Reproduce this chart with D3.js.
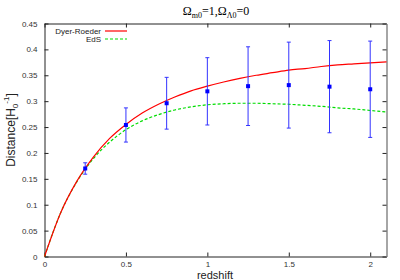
<!DOCTYPE html>
<html>
<head>
<meta charset="utf-8">
<script src="https://cdn.jsdelivr.net/npm/d3@7"></script>
<style>
  body { margin: 0; background: #fff; }
  text { font-family: "Liberation Sans", Arial, sans-serif; }
</style>
</head>
<body>
<div id="chart"></div>
<script>
// data
var zGrid = [0, 0.1, 0.2, 0.3, 0.4, 0.5, 0.6, 0.7, 0.8, 0.9, 1.0, 1.1, 1.2, 1.3, 1.4, 1.5, 1.6, 1.7, 1.8, 1.9, 2.0, 2.1];
var dyerRoeder = [0, 0.085, 0.146, 0.192, 0.228, 0.255, 0.277, 0.294, 0.308, 0.320, 0.329, 0.337, 0.344, 0.350, 0.355, 0.360, 0.363, 0.367, 0.370, 0.372, 0.374, 0.376];
var eds = [0, 0.085, 0.145, 0.189, 0.221, 0.245, 0.262, 0.274, 0.283, 0.289, 0.293, 0.295, 0.296, 0.296, 0.295, 0.294, 0.292, 0.290, 0.287, 0.285, 0.282, 0.279];

var obsZ = [0.25, 0.5, 0.75, 1.0, 1.25, 1.5, 1.75, 2.0];
var obsD = [0.170, 0.254, 0.296, 0.319, 0.329, 0.331, 0.328, 0.323];
var obsErr = [0.011, 0.033, 0.050, 0.065, 0.076, 0.083, 0.089, 0.093];

var xTicks = [0, 0.5, 1, 1.5, 2];
var yTicks = [0, 0.05, 0.1, 0.15, 0.2, 0.25, 0.3, 0.35, 0.4, 0.45];
var seriesNames = ["Dyer-Roeder", "EdS"];

// setup
var svg = d3.select("#chart").append("svg")
    .attr("width", 400)
    .attr("height", 280);

var x = d3.scaleLinear().domain([0, 2.1]).range([44.5, 386.5]);
var y = d3.scaleLinear().domain([0, 0.45]).range([256.5, 23.5]);

var axisColor = "#222";
var tickLen = 4;

// axes (ticks point inward, mirrored on top and right)
var axBottom = svg.append("g")
    .attr("transform", "translate(0," + y(0) + ")")
    .call(d3.axisBottom(x).tickValues(xTicks).tickSizeInner(-tickLen).tickSizeOuter(0).tickPadding(5)
        .tickFormat(d3.format("")));
var axTop = svg.append("g")
    .attr("transform", "translate(0," + y(0.45) + ")")
    .call(d3.axisTop(x).tickValues(xTicks).tickSizeInner(-tickLen).tickSizeOuter(0).tickFormat(""));
var axLeft = svg.append("g")
    .attr("transform", "translate(" + x(0) + ",0)")
    .call(d3.axisLeft(y).tickValues(yTicks).tickSizeInner(-tickLen).tickSizeOuter(0).tickPadding(7)
        .tickFormat(d3.format("")));
var axRight = svg.append("g")
    .attr("transform", "translate(" + x(2.1) + ",0)")
    .call(d3.axisRight(y).tickValues(yTicks).tickSizeInner(-tickLen).tickSizeOuter(0).tickFormat(""));

[axBottom, axTop, axLeft, axRight].forEach(function(g) {
    g.select(".domain").attr("stroke", axisColor);
    g.selectAll(".tick line").attr("stroke", axisColor);
    g.selectAll(".tick text")
        .attr("fill", "#333")
        .style("font-size", "8px")
        .style("font-family", "'Liberation Sans', Arial, sans-serif");
});
axRight.select(".domain").attr("stroke", "#888").attr("stroke-width", 1.5);

// curves
var curveData = function(vals) {
    return zGrid.map(function(z, i) { return [z, vals[i]]; });
};
var line = d3.line()
    .x(function(d) { return x(d[0]); })
    .y(function(d) { return y(d[1]); })
    .curve(d3.curveMonotoneX);

svg.append("path")
    .datum(curveData(eds))
    .attr("d", line)
    .attr("fill", "none")
    .attr("stroke", "#00dd00")
    .attr("stroke-width", 1.2)
    .attr("stroke-dasharray", "3,2");

svg.append("path")
    .datum(curveData(dyerRoeder))
    .attr("d", line)
    .attr("fill", "none")
    .attr("stroke", "#ff0000")
    .attr("stroke-width", 1.2);

// error bars
var obs = obsZ.map(function(z, i) { return { z: z, d: obsD[i], e: obsErr[i] }; });
var barColor = "#3333ff";
var bars = svg.append("g").attr("class", "errbars").selectAll(".errbar")
    .data(obs)
    .enter()
    .append("g")
    .attr("class", "errbar");

bars.append("line")
    .attr("x1", function(d) { return x(d.z); })
    .attr("x2", function(d) { return x(d.z); })
    .attr("y1", function(d) { return y(d.d - d.e); })
    .attr("y2", function(d) { return y(d.d + d.e); })
    .style("stroke", barColor)
    .style("stroke-width", 1);
bars.append("line")
    .attr("x1", function(d) { return x(d.z) - 2; })
    .attr("x2", function(d) { return x(d.z) + 2; })
    .attr("y1", function(d) { return y(d.d + d.e); })
    .attr("y2", function(d) { return y(d.d + d.e); })
    .style("stroke", barColor)
    .style("stroke-width", 1);
bars.append("line")
    .attr("x1", function(d) { return x(d.z) - 2; })
    .attr("x2", function(d) { return x(d.z) + 2; })
    .attr("y1", function(d) { return y(d.d - d.e); })
    .attr("y2", function(d) { return y(d.d - d.e); })
    .style("stroke", barColor)
    .style("stroke-width", 1);

svg.append("g").selectAll("rect")
    .data(obs)
    .enter()
    .append("rect")
    .attr("x", function(d) { return x(d.z) - 2; })
    .attr("y", function(d) { return y(d.d) - 2; })
    .attr("width", 4)
    .attr("height", 4)
    .attr("fill", "#0000ff");

// legend
var legendColors = ["#ff0000", "#00dd00"];
var legend = svg.append("g").selectAll("g")
    .data(seriesNames)
    .enter()
    .append("g")
    .attr("transform", function(d, i) { return "translate(0," + (31 + i * 8) + ")"; });
legend.append("text")
    .attr("x", 101)
    .attr("y", 3)
    .attr("text-anchor", "end")
    .style("font-size", "8px")
    .attr("fill", "#222")
    .text(function(d) { return d; });
legend.append("line")
    .attr("x1", 105)
    .attr("x2", 127)
    .attr("y1", 0)
    .attr("y2", 0)
    .attr("stroke", function(d, i) { return legendColors[i]; })
    .attr("stroke-width", 1.2)
    .attr("stroke-dasharray", function(d, i) { return i == 1 ? "3,2" : null; });

// title
var title = svg.append("text")
    .attr("x", 216)
    .attr("y", 15)
    .attr("text-anchor", "middle")
    .style("font-family", "'Liberation Serif', 'Times New Roman', serif")
    .style("font-size", "12px")
    .attr("fill", "#000");
title.append("tspan").text("Ω");
title.append("tspan").attr("dy", 3).style("font-size", "8px").text("m0");
title.append("tspan").attr("dy", -3).text("=1,Ω");
title.append("tspan").attr("dy", 3).style("font-size", "8px").text("Λ0");
title.append("tspan").attr("dy", -3).text("=0");

// axis labels
svg.append("text")
    .attr("x", 215)
    .attr("y", 279)
    .attr("text-anchor", "middle")
    .style("font-size", "11px")
    .attr("fill", "#222")
    .text("redshift");

var ylab = svg.append("text")
    .attr("transform", "translate(15,130) rotate(-90)")
    .attr("text-anchor", "middle")
    .style("font-size", "12px")
    .attr("fill", "#222");
ylab.append("tspan").text("Distance[H");
ylab.append("tspan").attr("dy", 3).style("font-size", "8px").text("0");
ylab.append("tspan").attr("dy", -9).style("font-size", "8px").text("-1");
ylab.append("tspan").attr("dy", 6).text("]");
</script>
</body>
</html>
